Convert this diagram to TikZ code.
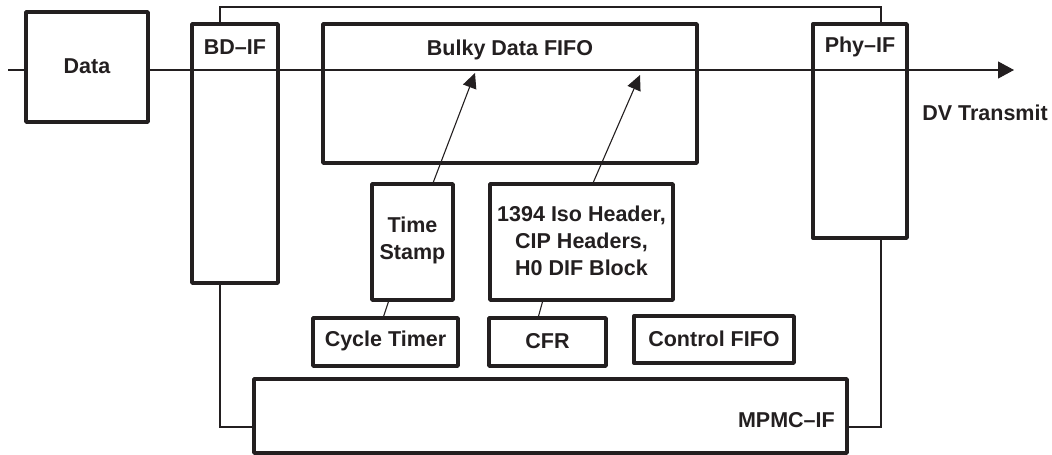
\documentclass[tikz,border=0pt]{standalone}
\usepackage{fontspec}
\setmainfont{Liberation Sans}
\usetikzlibrary{arrows.meta,calc}
\definecolor{ink}{HTML}{231F20}
\begin{document}
\begin{tikzpicture}[x=1pt,y=-1pt,
  box/.style={draw=ink,line width=3.4pt,line join=round,rectangle,inner sep=0pt,anchor=center},
  txt/.style={text=ink,font=\fontsize{21.5}{27}\selectfont\bfseries,inner sep=0pt,align=center},
  wire/.style={draw=ink,line width=1.1pt},
  tip/.style={-{Triangle[length=16pt,width=17pt]}},
  stip/.style={-{Triangle[length=15pt,width=14pt]}}]
\useasboundingbox (0,0) rectangle (1052,455);
% boxes
\node[box,minimum width=122pt,minimum height=110pt] (data) at (87,67) {};
\node[box,minimum width=86pt,minimum height=259pt] (bdif) at (235,153.5) {};
\node[box,minimum width=374pt,minimum height=139pt] (bulky) at (510,93.5) {};
\node[box,minimum width=94pt,minimum height=214pt] (phyif) at (860,131) {};
\node[box,minimum width=81pt,minimum height=116pt] (ts) at (412.5,242) {};
\node[box,minimum width=183pt,minimum height=116pt] (iso) at (581.5,242) {};
\node[box,minimum width=145pt,minimum height=48pt] (ct) at (385.5,342) {};
\node[box,minimum width=117pt,minimum height=48pt] (cfr) at (547.5,342) {};
\node[box,minimum width=160pt,minimum height=47pt] (cfifo) at (714,339.5) {};
\node[box,minimum width=593pt,minimum height=74pt] (mpmc) at (550.5,416) {};
% texts
\node[txt] (tdata) at (87,66) {Data};
\node[txt] (tbdif) at (235,47) {BD–IF};
\node[txt] (tbulky) at (510,50) {Bulky Data FIFO};
\node[txt] (tphy) at (860,47) {Phy–IF};
\node[txt] (tdv) at (985,113) {DV Transmit};
\node[txt] (tts) at (412.5,240) {Time\\Stamp};
\node[txt] (tiso) at (581.5,241) {1394 Iso Header,\\CIP Headers,\\H0 DIF Block};
\node[txt] (tct) at (385.5,341) {Cycle Timer};
\node[txt] (tcfr) at (547.5,341) {CFR};
\node[txt] (tcfifo) at (714,339) {Control FIFO};
\node[txt,anchor=east] (tmpmc) at (835,420) {MPMC–IF};
% coordinates
\coordinate (in) at (8,70);
\coordinate (out) at (1014,70);
\coordinate (a1s) at (433,183);
\coordinate (a1e) at (475,73);
\coordinate (a2s) at (593,183);
\coordinate (a2e) at (640,75);
\coordinate (l1s) at (389,300);
\coordinate (l1e) at (383,318);
\coordinate (l2s) at (543,300);
\coordinate (l2e) at (538,318);
\coordinate (tb) at (220,24);
\coordinate (tp) at (881,24);
\coordinate (bb) at (220,283);
\coordinate (pb) at (881,238);
% connectors
\draw[wire] (in) -- (in -| data.west);
\draw[wire,tip] (in -| data.east) -- (out);
\draw[wire,stip] (a1s) -- (a1e);
\draw[wire,stip] (a2s) -- (a2e);
\draw[wire] (l1s) -- (l1e);
\draw[wire] (l2s) -- (l2e);
\draw[wire] (tb) -- (220,7) -- (881,7) -- (tp);
\draw[wire] (bb) -- (220,427) -- (mpmc.west |- 0,427);
\draw[wire] (pb) -- (881,427) -- (mpmc.east |- 0,427);
\end{tikzpicture}
\end{document}
